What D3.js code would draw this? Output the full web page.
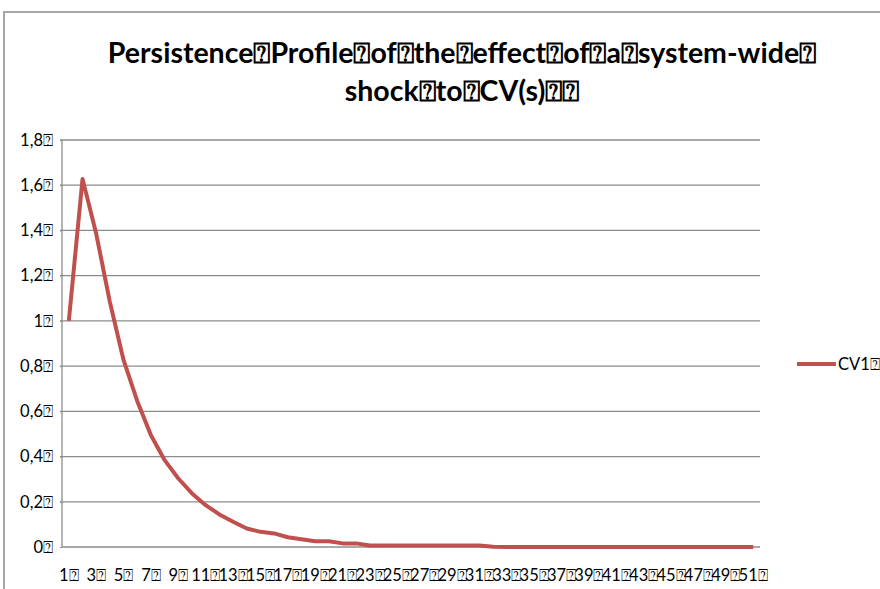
<!DOCTYPE html>
<html>
<head>
<meta charset="utf-8">
<script src="https://cdn.jsdelivr.net/npm/d3@7"></script>
<style>
body { margin: 0; background: #fff; }
text { font-family: Lato, "Open Sans", sans-serif; }
</style>
</head>
<body>
<div id="chart"></div>
<script>
// persistence profile, one series
var box = "\u2370";
var periods = d3.range(1, 52);
var cv1 = [1.0, 1.628, 1.385, 1.083, 0.826, 0.645, 0.494, 0.384, 0.303, 0.237,
    0.185, 0.144, 0.112, 0.082, 0.067, 0.06, 0.043, 0.034, 0.025, 0.025,
    0.016, 0.016, 0.007, 0.007, 0.007, 0.007, 0.007, 0.007, 0.007, 0.007,
    0.007, 0.001, 0, 0, 0, 0, 0, 0, 0, 0,
    0, 0, 0, 0, 0, 0, 0, 0, 0, 0, 0];
var yTicks = [0, 0.2, 0.4, 0.6, 0.8, 1, 1.2, 1.4, 1.6, 1.8];
var yTickLabels = ["0", "0,2", "0,4", "0,6", "0,8", "1", "1,2", "1,4", "1,6", "1,8"];
var titleLines = ["Persistence" + box + "Profile" + box + "of" + box + "the" + box + "effect" + box + "of" + box + "a" + box + "system-wide" + box,
    "shock" + box + "to" + box + "CV(s)" + box + box];
var seriesName = "CV1" + box;

var W = 880, H = 589;
var margin = {left: 62, right: 120, top: 140, bottom: 42};

var svg = d3.select("#chart").append("svg")
    .attr("width", W)
    .attr("height", H);

// outer frame (only top and left visible)
svg.append("path")
    .attr("d", "M4," + H + "V12H" + W)
    .attr("fill", "none")
    .attr("stroke", "#a6a6a6")
    .attr("stroke-width", 2);

var x = d3.scaleBand()
    .domain(periods)
    .range([margin.left, W - margin.right]);
var y = d3.scaleLinear()
    .domain([0, 1.8])
    .range([H - margin.bottom, margin.top]);

// gridlines
svg.append("g")
    .selectAll("line")
    .data(yTicks.slice(1))
    .enter()
    .append("line")
    .attr("x1", margin.left - 2)
    .attr("x2", W - margin.right)
    .attr("y1", function (d) { return y(d); })
    .attr("y2", function (d) { return y(d); })
    .attr("stroke", "#8c8c8c")
    .attr("stroke-width", 1.3);

// axes
var yAxis = svg.append("g")
    .attr("transform", "translate(" + margin.left + ",0)")
    .call(d3.axisLeft(y).tickValues(yTicks).tickSize(2)
        .tickFormat(function (d, i) { return yTickLabels[i] + box; }));
yAxis.select(".domain").attr("stroke", "#8c8c8c").attr("stroke-width", 1.3)
    .attr("d", "M0," + y(1.8) + "V" + y(0));
yAxis.selectAll(".tick line").attr("stroke", "#8c8c8c");
yAxis.selectAll("text")
    .attr("x", -9)
    .style("font-size", "16.5px")
    .style("font-family", "Lato, 'Open Sans', sans-serif")
    .attr("fill", "#000");

var xAxis = svg.append("g")
    .attr("transform", "translate(0," + y(0) + ")")
    .call(d3.axisBottom(x).tickSize(0)
        .tickFormat(function (d) { return d % 2 === 1 ? d + box : ""; }));
xAxis.select(".domain").attr("stroke", "#8c8c8c").attr("stroke-width", 1.3)
    .attr("d", "M" + margin.left + ",0H" + (W - margin.right));
xAxis.selectAll("text")
    .attr("y", 22)
    .style("font-size", "16.5px")
    .style("font-family", "Lato, 'Open Sans', sans-serif")
    .attr("fill", "#000");

// series line
var line = d3.line()
    .x(function (d, i) { return x(periods[i]) + x.bandwidth() / 2; })
    .y(function (d) { return y(d); });

svg.append("path")
    .datum(cv1)
    .attr("fill", "none")
    .attr("stroke", "#c0504d")
    .attr("stroke-width", 4)
    .attr("stroke-linejoin", "round")
    .attr("d", line);

// title
svg.append("g")
    .selectAll("text")
    .data(titleLines)
    .enter()
    .append("text")
    .attr("x", 462)
    .attr("y", function (d, i) { return 63 + i * 38; })
    .attr("text-anchor", "middle")
    .style("font-size", "28.5px")
    .style("font-weight", "bold")
    .text(function (d) { return d; });

// legend
svg.append("line")
    .attr("x1", 797).attr("x2", 836)
    .attr("y1", 364).attr("y2", 364)
    .attr("stroke", "#c0504d")
    .attr("stroke-width", 4);
svg.append("text")
    .attr("x", 838)
    .attr("y", 370)
    .style("font-size", "16.5px")
    .text(seriesName);
</script>
</body>
</html>
